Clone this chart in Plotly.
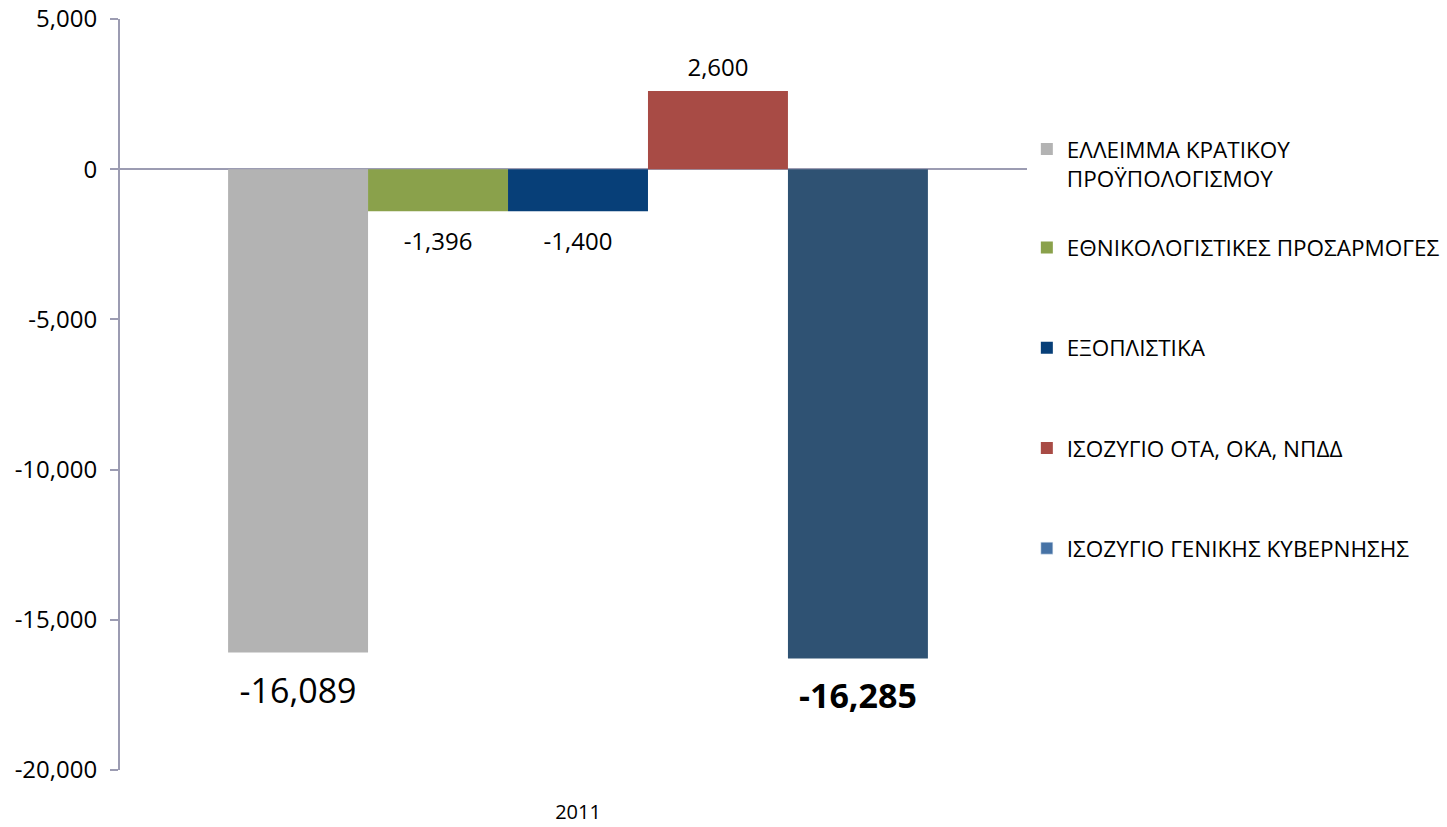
import plotly.graph_objects as go

# Δεδομένα (εκατ. ευρώ)
categories = ["2011"]
series_names = [
    "ΕΛΛΕΙΜΜΑ ΚΡΑΤΙΚΟΥ<br>ΠΡΟΫΠΟΛΟΓΙΣΜΟΥ",
    "ΕΘΝΙΚΟΛΟΓΙΣΤΙΚΕΣ ΠΡΟΣΑΡΜΟΓΕΣ",
    "ΕΞΟΠΛΙΣΤΙΚΑ",
    "ΙΣΟΖΥΓΙΟ ΟΤΑ, ΟΚΑ, ΝΠΔΔ",
    "ΙΣΟΖΥΓΙΟ ΓΕΝΙΚΗΣ ΚΥΒΕΡΝΗΣΗΣ",
]
values = [-16089, -1396, -1400, 2600, -16285]
bar_colors = ["#B3B3B3", "#8AA14B", "#073F78", "#A84B45", "#2F5273"]
legend_colors = ["#B3B3B3", "#8AA14B", "#073F78", "#A84B45", "#4672A5"]
y_ticks = [5000, 0, -5000, -10000, -15000, -20000]

FONT = "Open Sans"
AXIS_COL = "#9C9CB2"

# μέγεθος γραμματοσειράς ετικετών και κενό (σε px γραμματοσειράς) προς τη μπάρα
label_sizes = [34, 24, 24, 24, 34]
label_bold = [False, False, False, False, True]
spacer_sizes = [20, 15, 15, 8, 20]


def label(v, size):
    num = f"<span style='font-size:{size}px'>{v:,}</span>"
    if v > 0:
        return f"{num}<br>\u00a0"
    return f"\u00a0<br>{num}"


fig = go.Figure()
for i, (name, v) in enumerate(zip(series_names, values)):
    fig.add_trace(go.Bar(
        x=categories, y=[v], name=name,
        marker=dict(color=bar_colors[i], line=dict(width=0)),
        text=[label(v, label_sizes[i])], textposition="outside",
        textfont=dict(size=spacer_sizes[i], color="black", family=FONT,
                      weight="bold" if label_bold[i] else "normal"),
        cliponaxis=False,
        showlegend=(i < 4), legend="legend" if i == 0 else "legend2",
        legendgroup=f"g{i}", hoverinfo="skip",
    ))

# το τελευταίο υπόμνημα έχει πιο ανοιχτό μπλε
fig.add_trace(go.Bar(
    x=categories, y=[None], name=series_names[4],
    marker=dict(color=legend_colors[4]), xaxis="x2",
    legend="legend2", legendgroup="g4", showlegend=True, hoverinfo="skip",
))

legend_font = dict(size=22.5, family=FONT, color="black")

fig.update_layout(
    width=1447, height=827,
    barmode="group", bargap=0.236, bargroupgap=0,
    plot_bgcolor="white", paper_bgcolor="white",
    margin=dict(l=120, r=411, t=19, b=57, autoexpand=False),
    font=dict(family=FONT, size=20, color="black"),
    legend=dict(
        x=0.99, y=0.855, xanchor="left", yanchor="top",
        font=legend_font, valign="top", itemwidth=30,
    ),
    legend2=dict(
        x=0.99, y=0.724, xanchor="left", yanchor="top",
        font=legend_font, tracegroupgap=68, itemwidth=30,
    ),
    xaxis=dict(
        showline=False, showgrid=False, zeroline=False,
        ticks="", ticklabelstandoff=28, automargin=False,
        tickfont=dict(size=20, family=FONT),
    ),
    xaxis2=dict(overlaying="x", visible=False),
    yaxis=dict(
        range=[-20000, 5000], automargin=False,
        tickvals=y_ticks, ticktext=[f"{t:,}" for t in y_ticks],
        ticklabeloverflow="allow",
        showline=True, linecolor=AXIS_COL, linewidth=2,
        ticks="outside", ticklen=8, tickcolor=AXIS_COL, tickwidth=2,
        ticklabelstandoff=8,
        showgrid=False, zeroline=True, zerolinecolor=AXIS_COL, zerolinewidth=2,
        tickfont=dict(size=24, family=FONT),
    ),
)

# χωρίς περιθώριο σελίδας, ώστε το γράφημα να ξεκινά από την πάνω αριστερή γωνία
fig.write_html("out.html", config={"displayModeBar": False},
               post_script="document.body.style.margin='0';")
